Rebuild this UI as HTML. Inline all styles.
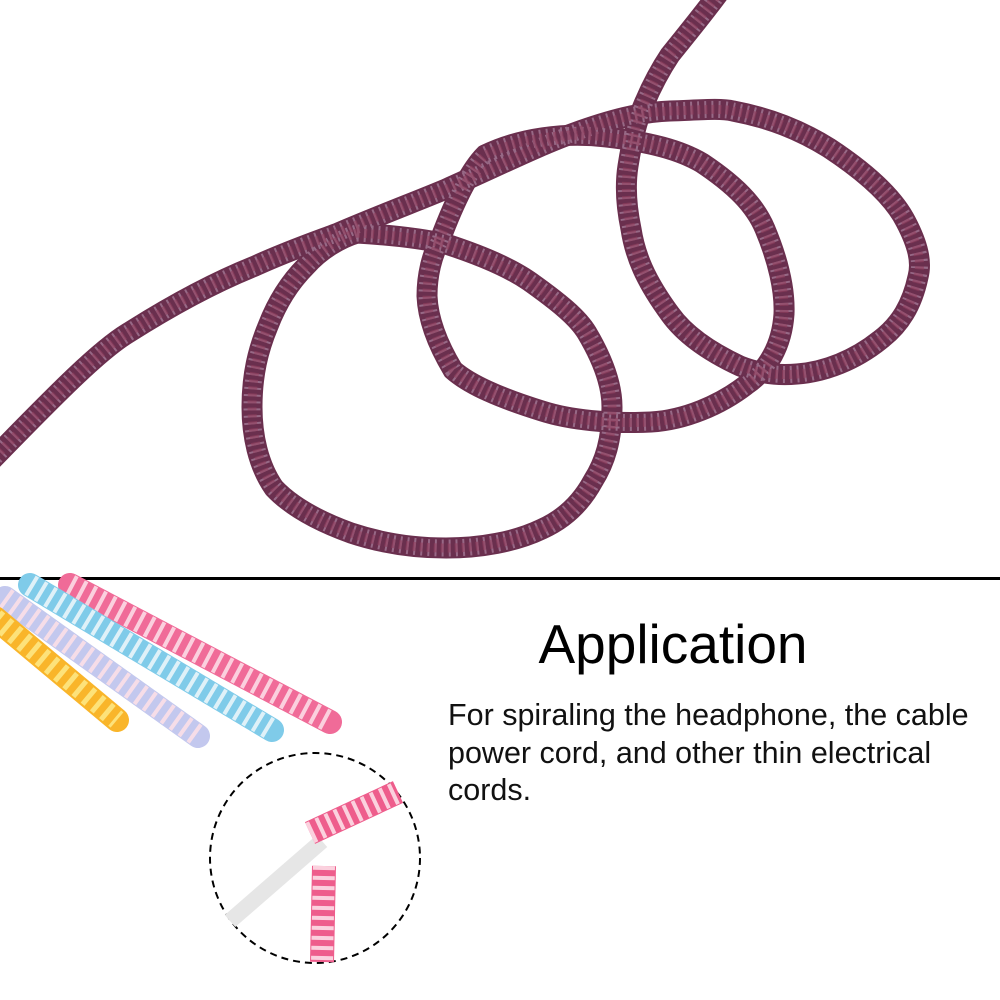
<!DOCTYPE html>
<html><head><style>
html,body{margin:0;padding:0;background:#fff;}
#c{position:relative;width:1000px;height:1000px;overflow:hidden;background:#fff;font-family:"Liberation Sans",sans-serif;}
h1{position:absolute;left:0;width:1346px;top:612px;margin:0;text-align:center;font-size:55px;font-weight:normal;color:#000;}
p{position:absolute;left:448px;top:697px;margin:0;width:545px;font-size:30.5px;line-height:37.5px;color:#111;}
</style></head><body><div id="c">
<svg width="1000" height="1000" style="position:absolute;left:0;top:0">
<defs>
<g id="cab">
<path d="M-10,462 C60,390 100,350 128,333 C180,300 220,280 255,266 C290,250 320,240 338,233 C380,215 420,200 446,189 C500,165 540,145 574,133 C610,120 640,112 670,111 C700,110 720,108 733,111 C770,118 800,130 829,148 C870,175 895,200 906,222 C918,245 922,262 918,277 C912,305 900,325 880,340 C855,360 825,372 797,374 C775,376 755,372 740,366 C710,352 685,335 670,314 C645,280 635,255 631,229 C626,205 625,185 628,166 C632,140 637,120 644,104 C652,85 660,70 670,55 C690,30 705,12 721,-10"/>
<path d="M357,233 C390,235 420,238 446,244 C480,255 510,268 529,281 C560,303 578,318 587,333 C603,360 612,385 612,407 C612,440 605,462 593,481 C580,505 562,520 542,529 C515,542 480,548 446,548 C410,548 378,542 351,533 C315,520 290,505 274,488 C258,465 252,435 252,407 C252,375 258,350 268,326 C278,300 292,280 306,266 C320,250 340,238 357,233 Z"/>
<path d="M440,240 C455,200 470,170 485,155 C520,138 565,132 606,137 C650,142 680,150 702,163 C735,185 755,205 765,229 C778,260 785,290 784,314 C782,345 768,370 746,385 C720,405 685,420 651,422 C610,424 570,420 542,411 C500,398 470,385 453,370 C438,345 428,320 427,296 C427,275 432,255 440,240"/>
</g>
</defs>
<g fill="none">
<use href="#cab" stroke="#6a2f4e" stroke-width="21" stroke-linecap="round"/>
<use href="#cab" stroke="#b590ac" stroke-width="17" stroke-dasharray="2 5" opacity="0.6"/>
<use href="#cab" stroke="#93405f" stroke-width="9" stroke-dasharray="3 4" opacity="0.6"/>
</g>
<rect x="0" y="577" width="1000" height="3" fill="#000"/>
<g fill="none">
<line x1="70" y1="585" x2="330" y2="722" stroke="#f06b98" stroke-width="24" stroke-linecap="round"/>
<line x1="70" y1="585" x2="330" y2="722" stroke="#fbd0de" stroke-width="22" stroke-dasharray="4 7"/>
<line x1="30" y1="585" x2="272" y2="730" stroke="#7fcbe9" stroke-width="24" stroke-linecap="round"/>
<line x1="30" y1="585" x2="272" y2="730" stroke="#dff1f8" stroke-width="22" stroke-dasharray="4 7"/>
<line x1="5" y1="598" x2="198" y2="736" stroke="#c3c8ee" stroke-width="24" stroke-linecap="round"/>
<line x1="5" y1="598" x2="198" y2="736" stroke="#f6dde8" stroke-width="22" stroke-dasharray="4 7"/>
<line x1="-5" y1="618" x2="117" y2="720" stroke="#f9b52a" stroke-width="24" stroke-linecap="round"/>
<line x1="-5" y1="618" x2="117" y2="720" stroke="#fde27a" stroke-width="20" stroke-dasharray="5 7"/>
</g>
<circle cx="315" cy="858" r="105" fill="none" stroke="#000" stroke-width="2" stroke-dasharray="7 5"/>
<g stroke-linecap="butt" fill="none">
<line x1="230" y1="921" x2="322" y2="841" stroke="#e6e6e6" stroke-width="16"/>
<line x1="310" y1="833" x2="398" y2="792" stroke="#ee5d8c" stroke-width="24"/>
<line x1="310" y1="833" x2="398" y2="792" stroke="#fbd1de" stroke-width="22" stroke-dasharray="4 6"/>
<line x1="324" y1="866" x2="322" y2="962" stroke="#ee5d8c" stroke-width="24"/>
<line x1="324" y1="866" x2="322" y2="962" stroke="#fbd1de" stroke-width="22" stroke-dasharray="4 6"/>
</g>
</svg>
<h1>Application</h1>
<p>For spiraling the headphone, the cable power cord, and other thin electrical cords.</p>
</div></body></html>
